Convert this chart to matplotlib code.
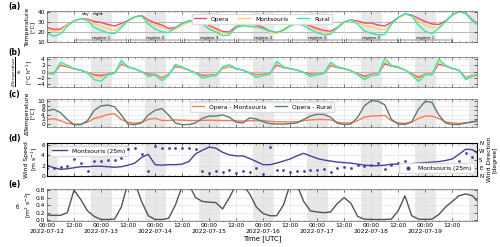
import numpy as np
import pandas as pd
import matplotlib.pyplot as plt
import matplotlib.dates as mdates
from matplotlib.ticker import FuncFormatter

plt.rcParams['font.family'] = 'DejaVu Sans'
plt.rcParams['font.size'] = 5

# 3-hourly data, 2022-07-12 00:00 .. 2022-07-20 00:00 (UTC)
times = pd.date_range('2022-07-12 00:00', '2022-07-20 00:00', freq='3h')

t_opera = [24.5, 22.5, 23.0, 27.5, 31.0, 33.0, 33.0, 30.5,
           29.5, 27.5, 26.0, 28.5, 31.5, 35.0, 36.5, 32.0,
           29.0, 27.0, 23.5, 24.5, 28.5, 31.0, 32.0, 30.5,
           26.5, 23.5, 20.5, 20.0, 25.5, 27.0, 28.0, 27.0,
           24.5, 21.0, 19.5, 22.0, 26.5, 29.0, 28.5, 26.0,
           23.5, 21.5, 20.8, 24.5, 30.0, 32.0, 31.0, 29.0,
           29.0, 27.0, 26.0, 29.5, 34.5, 38.0, 37.0, 33.5,
           30.5, 28.0, 27.5, 31.0, 37.0, 40.3, 39.0, 32.0,
           27.5]
t_montsouris = [22.5, 20.2, 21.5, 27.2, 31.0, 33.0, 32.2, 28.0,
                26.3, 23.3, 21.5, 26.5, 30.7, 34.7, 35.7, 30.0,
                26.5, 25.4, 22.0, 22.7, 26.8, 29.5, 30.5, 28.9,
                24.8, 21.9, 19.0, 18.5, 24.1, 25.7, 26.6, 25.5,
                23.0, 19.8, 18.5, 21.0, 25.6, 28.0, 27.0, 24.2,
                21.5, 19.5, 19.0, 23.7, 29.5, 31.5, 29.5, 26.0,
                25.5, 23.4, 22.2, 28.0, 34.0, 37.7, 36.2, 31.0,
                27.0, 24.5, 25.0, 30.0, 36.5, 40.0, 38.5, 31.2,
                26.2]
t_rural = [18.7, 16.0, 18.0, 25.5, 31.3, 33.3, 31.5, 24.5,
           21.5, 19.2, 18.4, 24.5, 31.5, 35.3, 36.0, 28.0,
           23.0, 20.2, 19.5, 24.0, 28.8, 31.2, 31.5, 28.0,
           23.0, 20.0, 16.5, 17.0, 24.7, 26.5, 25.3, 24.8,
           23.5, 20.8, 19.5, 22.0, 26.3, 28.5, 26.5, 22.5,
           19.2, 17.3, 17.8, 24.2, 30.2, 32.0, 28.0, 21.0,
           18.7, 17.0, 17.5, 27.5, 34.5, 38.2, 36.0, 27.0,
           20.5, 18.5, 23.5, 30.5, 37.2, 40.5, 38.5, 31.0,
           25.8]

# heating / cooling rate [degC h-1]
dtdt_opera = [-0.2, -0.5, 2.0, 1.5, 0.9, 0.4, -0.2, -1.0,
              -1.2, -0.8, -0.4, 2.4, 1.4, 0.8, 0.0, -0.8,
              -0.8, -2.0, -0.8, 1.6, 1.2, 0.5, -0.3, -1.2,
              -1.1, -0.9, 1.0, 1.6, 0.9, 0.5, -0.3, -1.0,
              -0.8, -0.5, 2.0, 1.3, 0.9, 0.5, -0.2, -0.8,
              -0.7, -0.5, 1.9, 1.3, 0.9, 0.3, -0.6, -1.5,
              -0.8, -0.7, 2.5, 1.7, 1.3, 0.5, -0.6, -1.8,
              -0.7, -0.7, 2.4, 1.7, 1.0, 0.5, -1.9, -1.2,
              -0.8]
dtdt_montsouris = [-0.3, -0.6, 2.4, 1.7, 1.0, 0.5, -0.3, -1.5,
                   -1.8, -1.0, -0.5, 2.8, 1.5, 0.8, 0.0, -1.2,
                   -1.0, -2.3, -1.0, 2.0, 1.3, 0.5, -0.4, -1.6,
                   -1.3, -1.0, 1.2, 1.8, 1.0, 0.5, -0.4, -1.3,
                   -1.0, -0.6, 2.6, 1.4, 0.9, 0.5, -0.3, -1.2,
                   -0.8, -0.5, 2.4, 1.4, 1.0, 0.3, -0.8, -2.0,
                   -1.0, -0.8, 3.3, 1.8, 1.4, 0.5, -0.8, -2.4,
                   -0.8, -0.8, 3.2, 1.8, 1.0, 0.5, -2.2, -1.3,
                   -0.9]
dtdt_rural = [-0.5, -0.8, 3.0, 2.0, 1.0, 0.5, -0.5, -2.5,
              -3.0, -1.0, -0.5, 3.5, 1.5, 1.0, 0.0, -1.5,
              -1.0, -2.8, -1.2, 2.3, 1.5, 0.5, -0.5, -2.0,
              -1.5, -1.2, 1.5, 2.2, 1.0, 0.5, -0.5, -1.8,
              -1.2, -0.8, 3.3, 1.5, 1.0, 0.5, -0.3, -1.5,
              -1.0, -0.5, 3.0, 1.5, 1.0, 0.3, -1.0, -2.5,
              -1.2, -1.0, 4.2, 2.0, 1.5, 0.5, -1.0, -3.0,
              -1.0, -1.0, 4.0, 2.0, 1.0, 0.5, -2.5, -1.5,
              -1.0]

# temperature differences [degC]
dt_opera_montsouris = [2.0, 2.3, 1.5, 0.3, 0.0, 0.0, 0.8, 2.5,
                       3.2, 4.2, 4.5, 2.0, 0.8, 0.3, 0.8, 2.0,
                       2.5, 1.6, 1.5, 1.8, 1.7, 1.5, 1.5, 1.6,
                       1.7, 1.6, 1.5, 1.5, 1.4, 1.3, 1.4, 1.5,
                       1.5, 1.2, 1.0, 1.0, 0.9, 1.0, 1.5, 1.8,
                       2.0, 2.0, 1.8, 0.8, 0.5, 0.5, 1.5, 3.0,
                       3.5, 3.6, 3.8, 1.5, 0.5, 0.3, 0.8, 2.5,
                       3.5, 3.5, 2.5, 1.0, 0.5, 0.3, 0.5, 0.8,
                       1.3]
dt_opera_rural = [5.8, 6.5, 5.0, 2.0, -0.3, -0.3, 1.5, 6.0,
                  8.0, 8.3, 7.6, 4.0, 0.0, -0.3, 0.5, 4.0,
                  6.0, 6.8, 4.0, 0.5, -0.3, -0.2, 0.5, 2.5,
                  3.5, 3.5, 4.0, 3.0, 0.8, 0.5, 2.7, 2.2,
                  1.0, 0.2, 0.0, 0.0, 0.2, 0.5, 2.0, 3.5,
                  4.3, 4.2, 3.0, 0.3, -0.2, 0.0, 3.0, 8.0,
                  10.3, 10.0, 8.5, 2.0, 0.0, -0.2, 1.0, 6.5,
                  10.0, 9.5, 4.0, 0.5, -0.2, -0.2, 0.5, 1.0,
                  1.7]

# Montsouris 25 m wind
wind_speed = [2.1, 1.6, 1.3, 1.4, 1.6, 1.8, 1.8, 1.9,
              1.9, 1.8, 1.7, 1.8, 2.1, 2.5, 3.6, 4.2,
              2.2, 2.1, 2.2, 2.2, 2.3, 2.8, 4.3, 5.0,
              5.6, 5.4, 4.6, 4.1, 3.9, 3.9, 3.4, 2.8,
              2.2, 2.2, 2.5, 2.9, 3.3, 3.9, 4.4, 3.9,
              3.4, 3.1, 2.9, 2.7, 2.6, 2.5, 2.3, 2.1,
              2.0, 2.0, 2.1, 2.3, 2.3, 2.3, 2.4, 2.5,
              2.6, 2.7, 2.8, 3.0, 3.3, 4.2, 5.2, 5.1,
              4.2]
wind_dir = [90, 87, 98, 109, 185, 142, 55, 164,
            164, 175, 175, 196, 300, 310, 240, 55,
            327, 305, 305, 305, 305, 305, 300, 55,
            33, 55, 44, 65, 33, 55, 44, 87,
            22, 320, 65, 65, 44, 55, 55, 65,
            65, 76, 44, 87, 98, 87, 120, 109,
            120, 142, 76, 120, 142, 164, 130, 120,
            120, 120, 120, 120, 120, 164, 250, 210,
            200]

sigma_v = [0.14, 0.13, 0.13, 0.20, 0.80, 0.55, 0.25, 0.10,
           0.02, 0.02, 0.03, 0.35, 1.00, 1.00, 0.50, 0.12,
           0.02, 0.02, 0.05, 0.40, 0.90, 0.95, 0.60, 0.50,
           0.48, 0.47, 0.30, 0.60, 0.95, 0.95, 0.70, 0.35,
           0.18, 0.12, 0.12, 0.40, 0.95, 0.95, 0.50, 0.25,
           0.22, 0.20, 0.22, 0.45, 0.60, 0.45, 0.10, 0.03,
           0.02, 0.02, 0.02, 0.03, 0.25, 0.65, 0.12, 0.03,
           0.02, 0.03, 0.15, 0.35, 0.50, 0.65, 0.70, 0.65,
           0.45]

days = pd.date_range('2022-07-12', '2022-07-19', freq='D')
regimes = ['regime 1', 'regime 2', 'regime 3', 'regime 2',
           'regime 3', 'regime 2', 'regime 1']

c_opera, c_mont, c_rural = '#ef476f', '#ffd166', '#2ee8b0'
c_om, c_or = '#fb7a52', '#5e7d6d'
c_wind = '#4b3f9e'

t0 = times[0]
t1 = pd.Timestamp('2022-07-19 23:00')

fig = plt.figure(figsize=(5, 2.47), dpi=100)
W, H = 500., 247.


def box(top, bottom):
    return [47 / W, 1 - bottom / H, 430 / W, (bottom - top) / H]


axa = fig.add_axes(box(11, 42))
axb = fig.add_axes(box(57, 87))
axc = fig.add_axes(box(99, 127))
axd = fig.add_axes(box(143, 176))
axe = fig.add_axes(box(189, 221))
axes = [axa, axb, axc, axd, axe]

major = mdates.HourLocator(byhour=[0, 12])
minor = mdates.HourLocator(byhour=range(0, 24, 3))


def fmt(x, pos):
    d = mdates.num2date(x)
    if d.hour == 0:
        return d.strftime('%H:%M\n%Y-%m-%d')
    return d.strftime('%H:%M')


for ax, lab in zip(axes, 'abcde'):
    # night shading
    ax.axvspan(t0, t0 + pd.Timedelta(hours=4.75), color='#e8e8e8', lw=0, zorder=0)
    for d in days:
        ax.axvspan(d + pd.Timedelta(hours=19.5), d + pd.Timedelta(hours=28.75),
                   color='#e8e8e8', lw=0, zorder=0)
    ax.set_xlim(t0, t1)
    ax.xaxis.set_major_locator(major)
    ax.xaxis.set_minor_locator(minor)
    ax.grid(True, which='major', color='#dddddd', lw=0.4, zorder=0)
    ax.tick_params(which='both', direction='in', top=True, right=True,
                   labelsize=4.3, width=0.4, pad=1.5)
    ax.tick_params(which='major', length=2)
    ax.tick_params(which='minor', length=1)
    for s in ax.spines.values():
        s.set_linewidth(0.5)
        s.set_color('#666666')
    if ax is not axe:
        ax.tick_params(labelbottom=False)
    ax.text(8 / W, ax.get_position().y1 + 5 / H, '(%s)' % lab,
            transform=fig.transFigure, fontsize=5.5, fontweight='bold',
            va='center', ha='left')

ylab = dict(fontsize=4.4, labelpad=1.5, linespacing=1.1)

# (a) temperature
axa.axhline(20, color='#888888', lw=0.7, zorder=1)
axa.axhline(30, color='#888888', lw=0.7, zorder=1)
axa.plot(times, t_opera, color=c_opera, lw=1.0, label='Opera')
axa.plot(times, t_montsouris, color=c_mont, lw=1.0, label='Montsouris')
axa.plot(times, t_rural, color=c_rural, lw=1.0, label='Rural')
axa.set_ylim(10, 41)
axa.set_yticks([10, 20, 30, 40])
axa.set_ylabel('Temperature\n[°C]', **ylab)
axa.legend(loc='upper center', ncol=3, fontsize=4.3, frameon=True,
           handlelength=2.0, columnspacing=1.5, borderpad=0.4,
           framealpha=1, edgecolor='#dddddd')
axa.text(t0 + pd.Timedelta(hours=17), 40, 'day', fontsize=3, ha='center', va='top')
axa.text(t0 + pd.Timedelta(hours=22.5), 40, 'night', fontsize=3, ha='center', va='top')
for d, r in zip(days, regimes):
    s = d + pd.Timedelta(hours=12.75)
    e = d + pd.Timedelta(hours=35.25)
    axa.annotate('', xy=(e, 12), xytext=(s, 12),
                 arrowprops=dict(arrowstyle='|-|', lw=0.4, color='#444444',
                                 mutation_scale=1.2, shrinkA=0, shrinkB=0))
    axa.text(d + pd.Timedelta(hours=24), 12.3, r, fontsize=3, ha='center', va='bottom')

# (b) heating rate
axb.axhline(0, color='#888888', lw=0.7, zorder=1)
axb.plot(times, dtdt_opera, color=c_opera, lw=1.0)
axb.plot(times, dtdt_montsouris, color=c_mont, lw=1.0)
axb.plot(times, dtdt_rural, color=c_rural, lw=1.0)
axb.set_ylim(-4.8, 4.6)
axb.set_yticks([-4, -2, 0, 2, 4])
axb.set_ylabel(r'$\frac{\partial Temperature}{\partial t}$' + '\n' + r'[°C h$^{-1}$]',
               fontsize=4.2, labelpad=1.5, linespacing=1.1)

# (c) temperature differences
axc.plot(times, dt_opera_montsouris, color=c_om, lw=1.0, label='Opera - Montsouris')
axc.plot(times, dt_opera_rural, color=c_or, lw=1.0, label='Opera - Rural')
axc.set_ylim(-1.3, 11)
axc.set_yticks([0, 2, 4, 6, 8, 10])
axc.set_ylabel('ΔTemperature\n[°C]', **ylab)
axc.legend(loc='upper center', ncol=2, fontsize=4.3, frameon=True,
           handlelength=2.0, columnspacing=1.5, borderpad=0.4,
           framealpha=1, edgecolor='#dddddd')

# (d) wind
axd.plot(times, wind_speed, color=c_wind, lw=1.0, label='Montsouris (25m)')
axd.set_ylim(0, 6.4)
axd.set_yticks([0, 2, 4, 6])
axd.set_ylabel('Wind Speed\n[m s$^{-1}$]', **ylab)
axd.legend(loc='upper left', fontsize=4.3, handlelength=2.5,
           framealpha=1, edgecolor='#dddddd')
axd2 = axd.twinx()
axd2.scatter(times, wind_dir, s=4, color=c_wind, lw=0, label='Montsouris (25m)')
axd2.set_ylim(0, 360)
axd2.set_yticks([0, 90, 180, 270, 360])
axd2.set_yticklabels(['N', 'E', 'S', 'W', 'N'])
axd2.tick_params(direction='in', labelsize=4, length=2, width=0.4, pad=1.5)
axd2.set_ylabel('Wind Direction\n[degree]', fontsize=4.4, labelpad=1.5, linespacing=1.1)
axd2.legend(loc='lower right', fontsize=4.3, framealpha=1, edgecolor='#dddddd',
            markerscale=1.5)
axd2.set_xlim(t0, t1)

# (e) sigma_v
axe.plot(times, sigma_v, color='#555555', lw=1.0)
axe.set_ylim(-0.02, 0.83)
axe.set_yticks([0.0, 0.2, 0.4, 0.6, 0.8])
axe.set_ylabel(r'$\sigma_v$' + '\n' + r'[m$^2$ s$^{-2}$]', **ylab)
axe.xaxis.set_major_formatter(FuncFormatter(fmt))
axe.set_xlabel('Time [UTC]', fontsize=5, labelpad=1)

fig.savefig('out.png', dpi=100)
